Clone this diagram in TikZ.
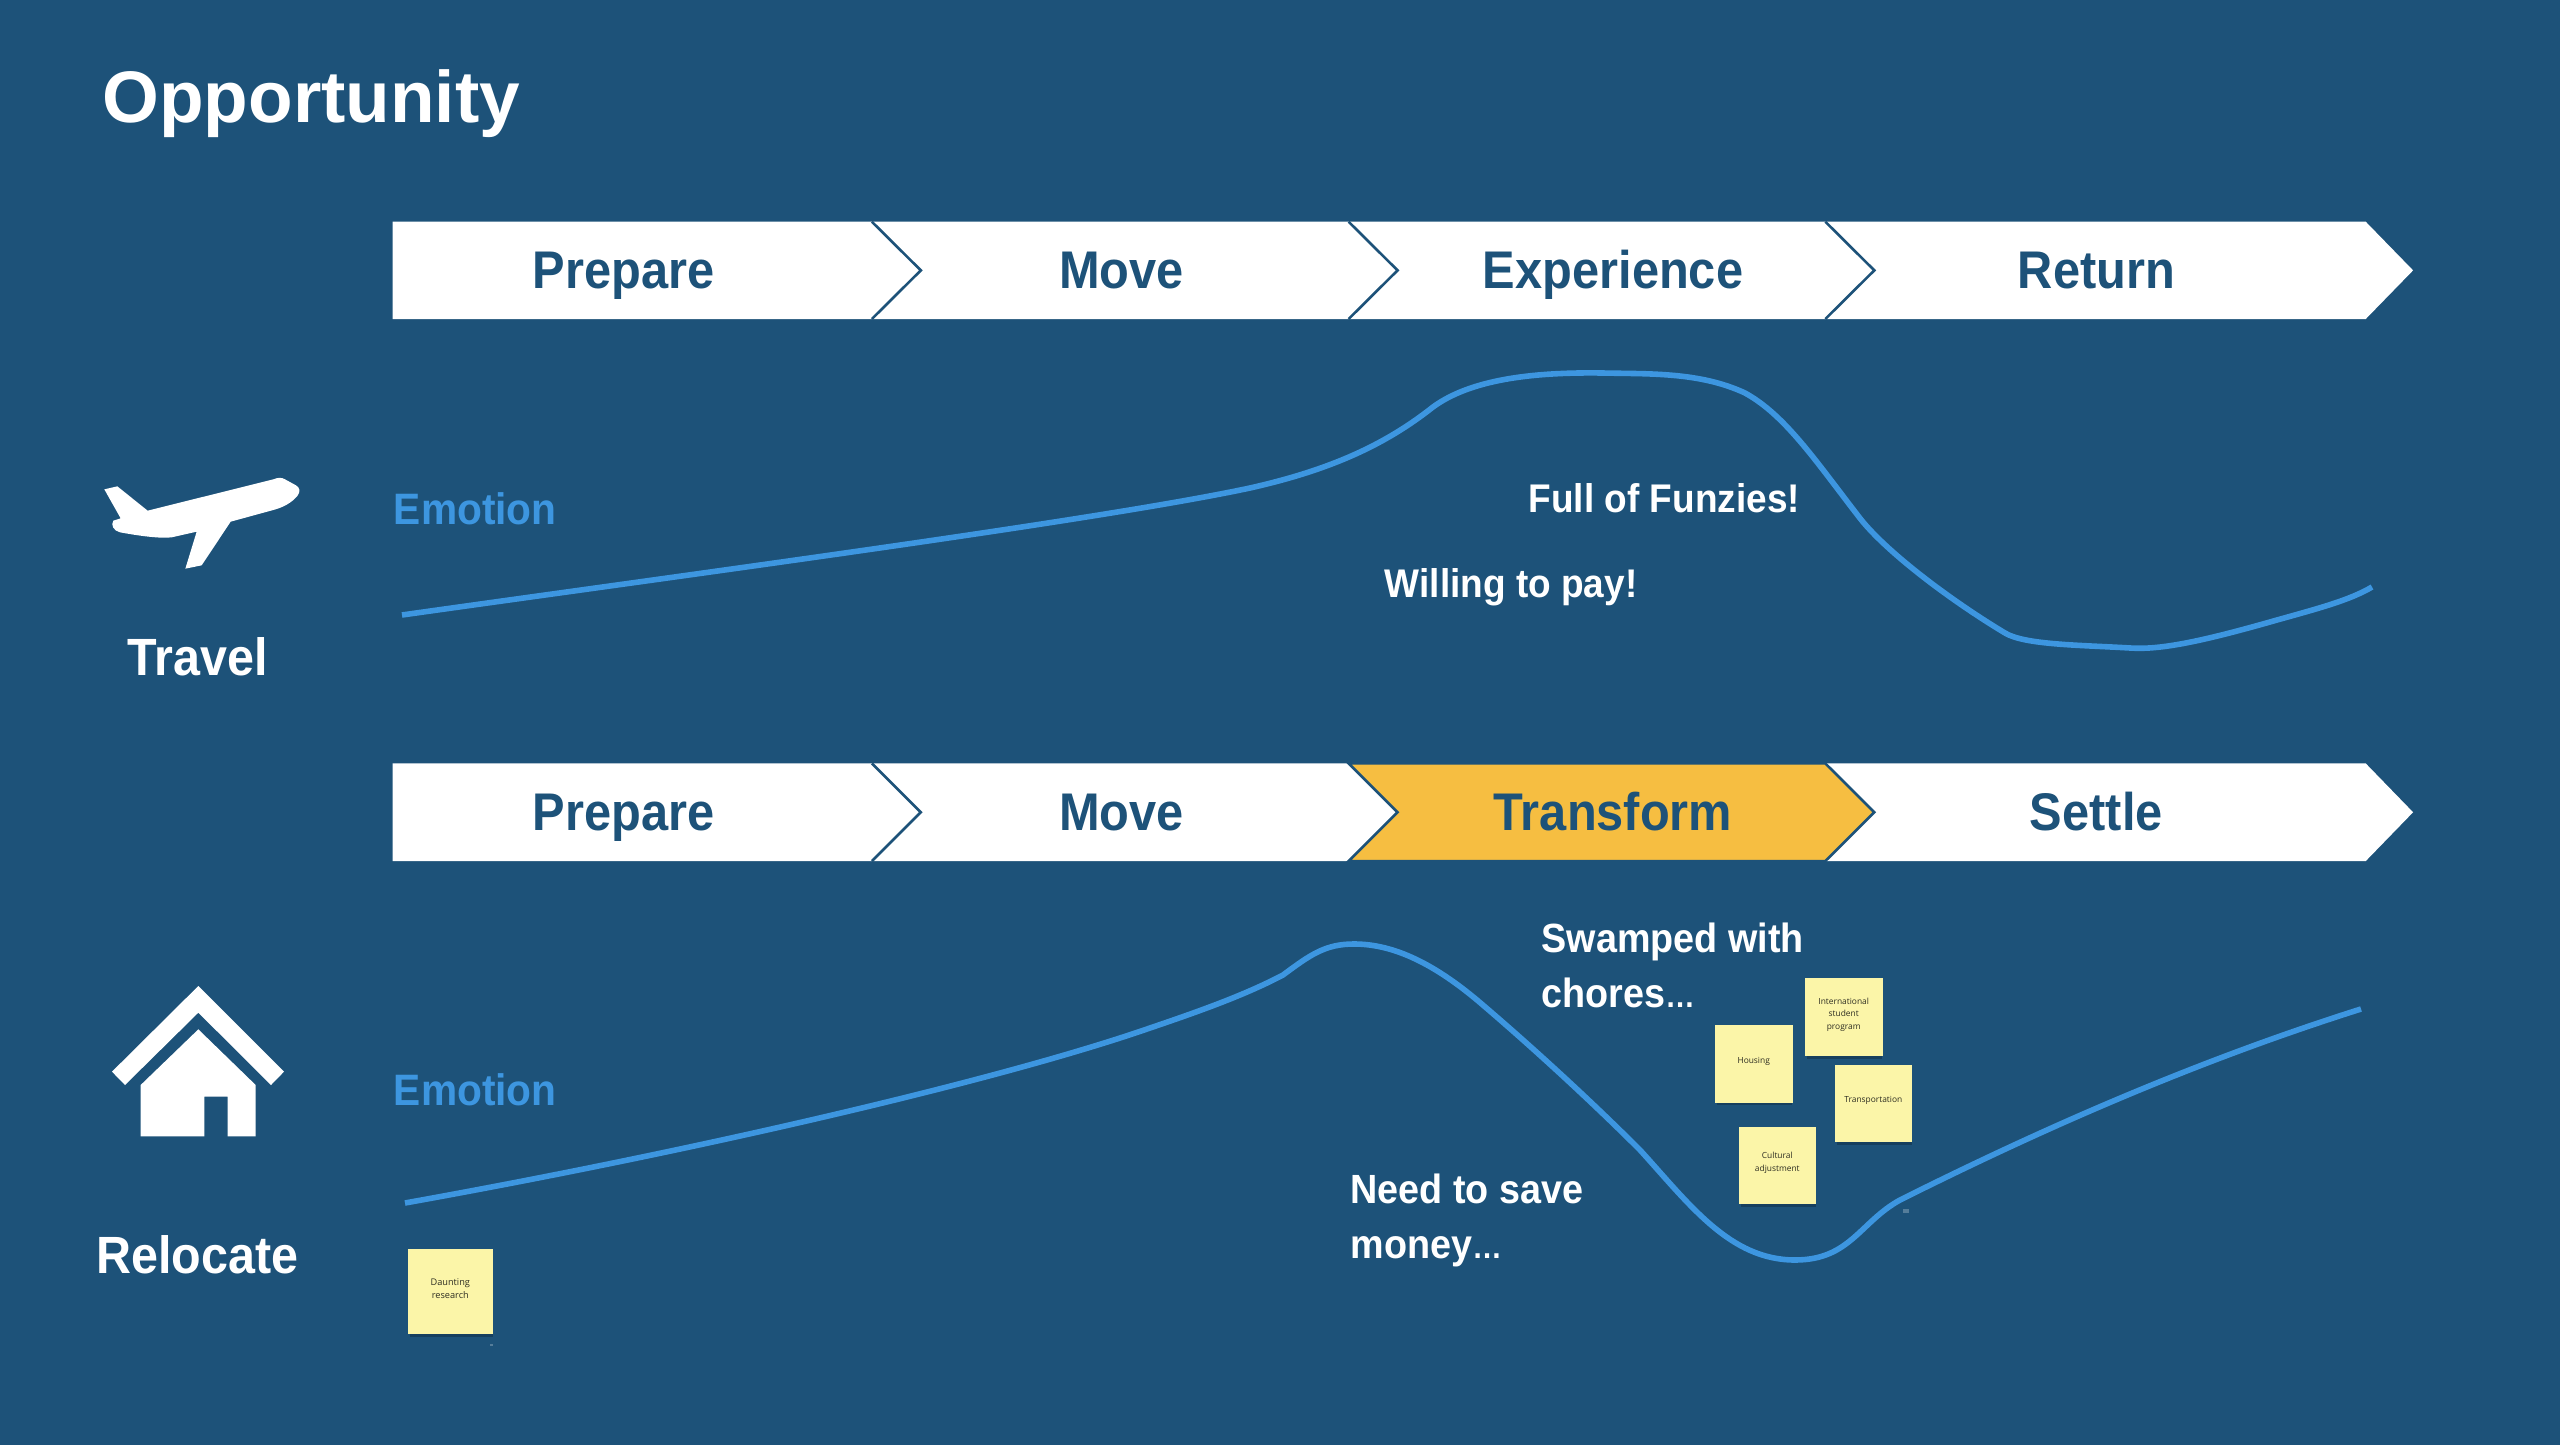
\documentclass[tikz,border=0pt]{standalone}
\usepackage{fontspec}
\setmainfont{Liberation Sans}
\newfontfamily\medfont[FakeStretch=0.925]{Liberation Sans Bold}
\newfontfamily\stagefont[FakeStretch=0.92]{Liberation Sans Bold}
\newfontfamily\notefont{Open Sans}
\usetikzlibrary{shadows}
\definecolor{navy}{HTML}{1D5279}
\definecolor{curveblue}{HTML}{3D96E0}
\definecolor{gold}{HTML}{F6BE41}
\definecolor{sticky}{HTML}{FBF5A8}
\definecolor{stickyink}{HTML}{2E2E22}
\newcommand{\tightdots}{{\fontsize{16}{27.5}\selectfont …}}
\tikzset{
  stage/.style={anchor=base,inner sep=0pt,text=navy,font=\stagefont\fontsize{26.5}{30}\selectfont},
  side/.style={anchor=base,inner sep=0pt,text=white,font=\medfont\fontsize{26.2}{30}\selectfont},
  emotionlabel/.style={anchor=base west,inner sep=0pt,text=curveblue,font=\medfont\fontsize{22}{26}\selectfont},
  remark/.style={anchor=base west,inner sep=0pt,text=white,align=left,font=\medfont\fontsize{20}{27.5}\selectfont},
  longremark/.style={remark,font=\medfont\fontsize{20.4}{27.5}\selectfont},
  curve/.style={draw=curveblue,line width=2.8pt,line cap=butt,line join=round},
  sep/.style={draw=navy,line width=1.3pt,line join=miter},
  notecard/.style={fill=sticky,draw=none,inner sep=0pt,minimum size=#1,
    general shadow={shadow xshift=0.5pt,shadow yshift=-2pt,fill=black,opacity=.22,shadow scale=.97}},
  notetext/.style={text=stickyink,align=center,inner sep=0pt,font=\notefont\fontsize{4.2}{6.2}\selectfont},
  bignotetext/.style={text=stickyink,align=center,inner sep=0pt,font=\notefont\fontsize{4.6}{6.6}\selectfont},
}
\begin{document}
\begin{tikzpicture}[x=0.81633pt,y=-0.81633pt]
  % slide background
  \fill[navy] (0,0) rectangle (1568,885.06);

  \node[anchor=base west,inner sep=0pt,text=white,font=\bfseries\fontsize{36.5}{40}\selectfont] (title) at (62.5,75) {Opportunity};

  % upper stage band
  \fill[white] (240.5,135.8) -- (1449,135.8) -- (1478,165.6) -- (1449,195.4) -- (240.5,195.4) -- cycle;
  \draw[sep] (534,135.8) -- (564,165.6) -- (534,195.4);
  \draw[sep] (826,135.8) -- (856,165.6) -- (826,195.4);
  \draw[sep] (1118,135.8) -- (1148,165.6) -- (1118,195.4);
  \node[stage] (prepA) at (382,176.6) {Prepare};
  \node[stage] (moveA) at (687,176.6) {Move};
  \node[stage] (expA) at (988,176.6) {Experience};
  \node[stage] (retA) at (1284,176.6) {Return};

  % lower stage band, with the highlighted stage
  \fill[white] (240.5,467.6) -- (1449,467.6) -- (1478,497.5) -- (1449,527.4) -- (240.5,527.4) -- cycle;
  \draw[sep] (534,467.6) -- (564,497.5) -- (534,527.4);
  \draw[sep,fill=gold] (826,467.6) -- (1118,467.6) -- (1148,497.5) -- (1118,527.4) -- (826,527.4) -- (856,497.5) -- cycle;
  \node[stage] (prepB) at (382,508.6) {Prepare};
  \node[stage] (moveB) at (687,508.6) {Move};
  \node[stage] (transB) at (988,508.6) {Transform};
  \node[stage] (setB) at (1284,508.6) {Settle};

  % emotion curves, on the full pixel grid
  \begin{scope}[x=0.5pt,y=-0.5pt]
    \draw[curve] (402,615) .. controls (700,573) and (1100,520) .. (1250,488)
      .. controls (1330,470) and (1385,445) .. (1433,407)
      .. controls (1470,380) and (1530,372) .. (1602,373)
      .. controls (1650,374) and (1700,372) .. (1745,393)
      .. controls (1785,415) and (1815,460) .. (1859,517)
      .. controls (1885,551) and (1950,600) .. (2005,633)
      .. controls (2025,645) and (2080,645) .. (2130,648)
      .. controls (2160,650) and (2200,642) .. (2277,620)
      .. controls (2320,608) and (2350,600) .. (2372,587);
    \draw[curve] (405,1203) .. controls (700,1150) and (1000,1080) .. (1150,1028)
      .. controls (1200,1011) and (1245,995) .. (1283,975)
      .. controls (1310,955) and (1325,944) .. (1354,944)
      .. controls (1395,944) and (1435,965) .. (1477,1000)
      .. controls (1530,1045) and (1590,1100) .. (1640,1150)
      .. controls (1690,1205) and (1730,1260) .. (1795,1260)
      .. controls (1850,1260) and (1860,1222) .. (1900,1200)
      .. controls (2050,1125) and (2200,1060) .. (2361,1009);
  \end{scope}

  % row captions and remarks
  \node[side] (travel) at (121,414) {Travel};
  \node[side] (relocate) at (121,780) {Relocate};
  \node[emotionlabel] (emoA) at (241,321) {Emotion};
  \node[emotionlabel] (emoB) at (241,677) {Emotion};
  \node[remark] (funzies) at (936,314) {Full of Funzies!};
  \node[remark] (willing) at (848,366) {Willing to pay!};
  \node[longremark] (swamped) at (944,617) {Swamped with\\chores\tightdots};
  \node[longremark] (save) at (827,771) {Need to save\\money\tightdots};

  % airplane icon
  \begin{scope}[shift={(30pt,-220pt)},x=0.16667pt,y=-0.16667pt]
    \fill[white] (133,148) -- (172,139) -- (263,212) -- (640,118)
      .. controls (655,112) and (665,112) .. (675,118) -- (708,136)
      .. controls (720,143) and (722,155) .. (712,168)
      .. controls (695,188) and (670,202) .. (640,210)
      -- (512,245) -- (425,376) -- (376,386) -- (410,275) -- (335,292)
      .. controls (300,296) and (240,288) .. (180,277)
      .. controls (160,272) and (152,255) .. (160,242)
      -- (182,235) -- cycle;
  \end{scope}

  % house icon
  \begin{scope}[shift={(40pt,-480pt)},x=0.16667pt,y=-0.16667pt]
    \fill[white] (355,78) -- (612,335) -- (573,375) -- (355,158) -- (135,375) -- (96,335) -- cycle;
    \fill[white] (355,208) -- (527,375) -- (527,529) -- (443,529) -- (443,410) -- (373,410) -- (373,529) -- (182,529) -- (182,375) -- cycle;
  \end{scope}

  % sticky notes, on the full pixel grid
  \begin{scope}[x=0.5pt,y=-0.5pt]
    \node[notecard=38.8pt] (intl) at (1843.7,1017) {};
    \node[notecard=38.8pt] (housing) at (1753.7,1063.7) {};
    \node[notecard=38.8pt] (transport) at (1873.3,1103.3) {};
    \node[notecard=38.8pt] (cultural) at (1777.3,1165.3) {};
    \node[notecard=42.7pt] (daunting) at (450.3,1291.3) {};
    \node[notetext] at ([yshift=1.2pt]intl) {International\\student\\program};
    \node[notetext] at ([yshift=1.2pt]housing) {Housing};
    \node[notetext] at ([yshift=1.2pt]transport) {Transportation};
    \node[notetext] at ([yshift=1.2pt]cultural) {Cultural\\adjustment};
    \node[bignotetext] at ([yshift=1.2pt]daunting) {Daunting\\research};
    % stray specks beside the curve and under the first note
    \fill[white,opacity=.25] (1903,1209) rectangle (1909,1213);
    \fill[white,opacity=.25] (490,1344) rectangle (493,1346);
  \end{scope}
\end{tikzpicture}
\end{document}
